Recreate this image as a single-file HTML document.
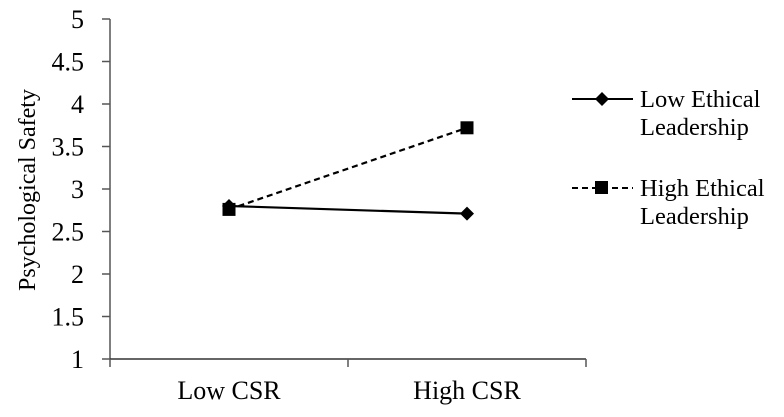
<!DOCTYPE html>
<html><head><meta charset="utf-8"><style>
body{margin:0;background:#fff}
svg{display:block;font-family:"Liberation Serif",serif}
</style></head><body>
<svg width="784" height="417" id="chart">
<text x="35" y="190" font-size="24" text-anchor="middle" transform="rotate(-90 35 190)">Psychological  Safety</text>
<g id="axes"></g>
<g id="series"></g>
<g>
<line x1="572" y1="99" x2="633" y2="99" stroke="#000" stroke-width="2"/>
<path d="M602,92 L609,99 L602,106 L595,99 Z" fill="#000"/>
<text x="640" y="107" font-size="24.5">Low Ethical</text>
<text x="640" y="135" font-size="24.5">Leadership</text>
<line x1="572" y1="188" x2="633" y2="188" stroke="#000" stroke-width="2" stroke-dasharray="6,4"/>
<rect x="595" y="181" width="13" height="13" fill="#000"/>
<text x="640" y="196" font-size="24.5">High Ethical</text>
<text x="640" y="224" font-size="24.5">Leadership</text>
</g>
</svg>
<script>
const categories=["Low CSR","High CSR"];
const lowEthical=[2.80,2.71];
const highEthical=[2.76,3.72];
const yTicks=["1","1.5","2","2.5","3","3.5","4","4.5","5"];
const NS="http://www.w3.org/2000/svg";
const x0=110,x1=586,yb=359,yt=19;
const yS=v=>yb-(v-1)/(5-1)*(yb-yt);
const xS=i=>x0+(x1-x0)/categories.length*(i+0.5);
function mk(t,a,p){const e=document.createElementNS(NS,t);for(const k in a)e.setAttribute(k,a[k]);p.appendChild(e);return e;}
const ax=document.getElementById('axes');
const ya=mk('line',{x1:x0,y1:yt,x2:x0,y2:yb,stroke:'#555','stroke-width':1.5},ax);


const xa=mk('line',{x1:x0,y1:yb,x2:x1,y2:yb,stroke:'#333','stroke-width':1.5},ax);


yTicks.forEach(t=>{const y=yS(parseFloat(t));
mk('line',{x1:x0-8,y1:y,x2:x0,y2:y,stroke:'#555','stroke-width':1.5},ax);
const tx=mk('text',{x:84,y:y+9,'font-size':26,'text-anchor':'end'},ax);tx.textContent=t;

});
for(let i=0;i<=categories.length;i++){const x=x0+(x1-x0)/categories.length*i;mk('line',{x1:x,y1:yb,x2:x,y2:yb+8,stroke:'#555','stroke-width':1.5},ax);}
categories.forEach((c,i)=>{const tx=mk('text',{x:xS(i),y:399,'font-size':26,'text-anchor':'middle'},ax);tx.textContent=c;

});
const sg=document.getElementById('series');
const pl=mk('polyline',{points:lowEthical.map((v,i)=>xS(i)+','+yS(v)).join(' '),fill:'none',stroke:'#000','stroke-width':2.2},sg);


const ph=mk('polyline',{points:highEthical.map((v,i)=>xS(i)+','+yS(v)).join(' '),fill:'none',stroke:'#000','stroke-width':2.2,'stroke-dasharray':'6,4'},sg);


lowEthical.forEach((v,i)=>{const x=xS(i),y=yS(v);const d=mk('path',{d:`M${x},${y-7} L${x+7},${y} L${x},${y+7} L${x-7},${y} Z`,fill:'#000'},sg);

});
highEthical.forEach((v,i)=>{const x=xS(i),y=yS(v);const r=mk('rect',{x:x-6.5,y:y-6.5,width:13,height:13,fill:'#000'},sg);

});
</script>
</body></html>
